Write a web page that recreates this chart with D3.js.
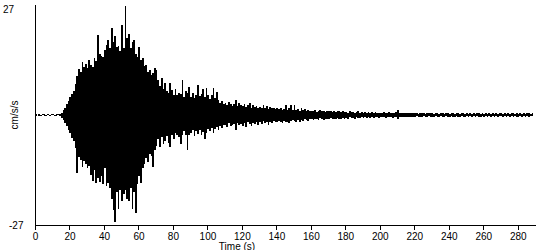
<!DOCTYPE html>
<html>
<head>
<meta charset="utf-8">
<script src="https://cdn.jsdelivr.net/npm/d3@7"></script>
<style>
	body { margin: 0; background: #fff; }
	text { font-family: "Liberation Sans", Arial, sans-serif; font-size: 10px; fill: #000; }
</style>
</head>
<body>
<svg id="chart" width="550" height="250"></svg>
<script>
// =============================
// Seismogram: peak ground acceleration per second
// =============================

// one value per second (cm/s/s)
const peakHigh = [
	0.2,0.1,0.2,0.1,0.2,0.3,0.1,0.2,0.1,0.2,
	0.2,0.1,0.2,0.2,0.3,0.6,1.2,1.8,2.6,3.4,
	4.3,5.2,6.0,7.5,9.6,11.2,10.5,13.0,11.8,12.4,
	11.5,13.6,12.2,11.8,14.0,13.2,19.7,15.0,14.5,14.2,
	16.0,17.2,18.4,16.5,21.4,17.8,19.5,16.8,17.0,15.8,
	22.0,16.5,26.8,19.0,20.0,16.5,17.8,18.5,15.0,14.2,
	16.8,13.5,14.0,12.0,12.3,10.5,11.0,9.8,10.2,11.5,
	11.0,8.5,7.2,9.0,6.5,7.8,6.0,5.5,7.8,6.2,
	5.0,6.5,4.8,5.5,5.2,8.6,4.5,6.0,5.5,6.9,
	4.5,5.5,4.2,5.0,7.4,4.6,5.2,6.3,4.4,6.6,
	4.8,4.0,5.0,6.6,4.2,5.7,3.8,3.0,3.5,2.6,
	3.0,2.4,3.2,2.8,2.2,2.6,3.7,2.2,3.0,2.5,
	2.2,2.8,2.0,2.5,2.9,1.8,2.4,2.0,2.2,1.7,
	2.0,1.6,2.4,1.8,2.2,1.5,2.0,1.6,1.8,1.4,
	1.6,1.4,1.7,1.2,1.5,2.5,1.3,1.6,2.4,1.2,
	2.5,1.3,1.5,1.1,1.8,1.2,1.4,1.0,1.2,0.9,
	1.1,0.9,1.2,0.8,1.0,1.2,0.9,1.1,0.8,1.0,
	0.9,1.1,0.8,1.0,0.7,0.9,1.0,0.8,0.9,0.7,
	0.8,0.6,0.9,0.7,0.8,0.6,0.7,0.9,0.6,0.8,
	0.6,0.8,0.5,0.7,0.6,0.8,0.5,0.7,0.6,0.5,
	0.6,0.5,0.7,0.6,0.5,0.7,0.6,0.5,0.6,0.7,
	1.2,0.5,0.6,0.4,0.6,0.5,0.4,0.6,0.5,0.4,
	0.4,0.5,0.3,0.6,0.4,0.5,0.3,0.4,0.6,0.4,
	0.5,0.3,0.4,0.6,0.3,0.5,0.4,0.3,0.5,0.4,
	0.3,0.5,0.4,0.3,0.6,0.4,0.3,0.5,0.4,0.3,
	0.4,0.3,0.5,0.3,0.4,0.3,0.5,0.4,0.3,0.4,
	0.3,0.4,0.3,0.5,0.3,0.4,0.3,0.4,0.3,0.5,
	0.4,0.3,0.5,0.3,0.4,0.3,0.4,0.5,0.3,0.4,
	0.3,0.5,0.3,0.4,0.3,0.4,0.5,0.3,0.4];

const peakLow = [
	-0.2,-0.1,-0.2,-0.2,-0.1,-0.2,-0.3,-0.1,-0.2,-0.1,
	-0.1,-0.2,-0.2,-0.1,-0.3,-0.7,-1.3,-2.0,-2.7,-3.6,
	-4.5,-5.6,-6.4,-8.0,-14.3,-10.2,-11.0,-12.7,-11.4,-12.0,
	-13.0,-12.5,-14.8,-16.2,-13.5,-16.7,-15.4,-16.5,-15.0,-17.0,
	-13.0,-17.5,-16.8,-18.0,-20.5,-23.3,-26.3,-19.0,-23.0,-18.4,
	-21.0,-19.5,-18.4,-20.5,-21.0,-18.0,-23.0,-19.0,-24.0,-17.0,
	-15.0,-16.8,-13.0,-12.0,-10.5,-11.5,-9.5,-10.0,-12.7,-8.5,
	-7.5,-6.0,-7.8,-5.5,-7.0,-6.5,-5.2,-6.8,-7.9,-5.0,
	-6.0,-4.5,-5.0,-5.5,-7.0,-4.8,-4.0,-4.8,-8.6,-5.0,
	-4.5,-3.8,-5.2,-4.0,-4.6,-3.7,-5.0,-4.2,-5.9,-4.3,
	-3.5,-4.0,-3.2,-4.5,-3.4,-3.0,-3.6,-2.8,-3.2,-2.5,
	-2.4,-3.0,-2.0,-2.6,-2.4,-2.2,-3.7,-2.0,-2.5,-2.2,
	-2.6,-2.0,-3.0,-1.8,-2.3,-2.8,-1.9,-2.2,-1.7,-2.4,
	-1.8,-2.2,-1.5,-2.0,-1.6,-2.4,-1.7,-1.9,-1.5,-1.8,
	-1.8,-1.5,-1.7,-1.9,-1.4,-1.8,-1.6,-2.0,-1.5,-1.3,
	-1.4,-1.8,-1.2,-1.6,-1.3,-1.5,-1.1,-1.2,-1.4,-1.0,
	-1.0,-1.3,-0.9,-1.1,-1.2,-0.8,-1.0,-1.3,-0.9,-1.1,
	-1.0,-0.8,-1.1,-0.9,-1.0,-0.8,-0.9,-1.0,-0.7,-0.9,
	-0.7,-0.9,-0.6,-0.8,-0.7,-0.9,-0.6,-0.8,-0.7,-0.6,
	-0.7,-0.6,-0.8,-0.5,-0.7,-0.6,-0.8,-0.5,-0.6,-0.7,
	-0.5,-0.6,-0.5,-0.7,-0.6,-0.5,-0.6,-0.7,-0.5,-0.6,
	-1.1,-0.5,-0.4,-0.6,-0.5,-0.4,-0.6,-0.5,-0.4,-0.5,
	-0.5,-0.3,-0.5,-0.4,-0.6,-0.3,-0.5,-0.4,-0.3,-0.5,
	-0.4,-0.5,-0.3,-0.4,-0.5,-0.3,-0.6,-0.4,-0.3,-0.5,
	-0.4,-0.3,-0.5,-0.4,-0.3,-0.5,-0.4,-0.3,-0.5,-0.4,
	-0.3,-0.4,-0.3,-0.5,-0.3,-0.4,-0.3,-0.4,-0.5,-0.3,
	-0.4,-0.3,-0.4,-0.3,-0.5,-0.3,-0.4,-0.3,-0.4,-0.3,
	-0.3,-0.4,-0.3,-0.4,-0.3,-0.5,-0.3,-0.4,-0.3,-0.4,
	-0.4,-0.3,-0.4,-0.3,-0.5,-0.3,-0.4,-0.3,-0.2];

const xTicks = d3.range(0, 281, 20);
const yTicks = [27, -27];

const svg = d3.select("#chart");

const x = d3.scaleLinear().domain([0, 290]).range([35, 535]);
const y = d3.scaleLinear().domain([-27, 27]).range([225, 5]);

// each second is a filled column from its low peak to its high peak
const seconds = peakHigh.map((v, i) => ({t: i, high: v, low: peakLow[i]}));
seconds.push({t: seconds.length, high: 0.1, low: -0.1});

const area = d3.area()
	.curve(d3.curveStepAfter)
	.x(d => x(d.t))
	.y0(d => y(d.low))
	.y1(d => y(d.high));

svg.append("path")
	.datum(seconds)
	.attr("d", area)
	.attr("fill", "#000")
	.attr("shape-rendering", "crispEdges");

// x axis
const xAxis = svg.append("g")
	.attr("transform", `translate(0,${y(-27)})`)
	.call(d3.axisBottom(x).tickValues(xTicks).tickSize(5).tickSizeOuter(0).tickFormat(d3.format("d")));
xAxis.select(".domain").attr("stroke", "#000").attr("d", `M${x(0)},0.5H536`).attr("shape-rendering", "crispEdges");
xAxis.selectAll("line").attr("stroke", "#000").attr("shape-rendering", "crispEdges");
xAxis.selectAll("text").attr("y", 7.5).attr("font-family", null).attr("font-size", null);
xAxis.attr("font-family", null).attr("font-size", null);

// y axis, just the line and end labels
svg.append("line")
	.attr("x1", x(0)).attr("x2", x(0))
	.attr("y1", y(27)).attr("y2", y(-27))
	.attr("stroke", "#000")
	.attr("shape-rendering", "crispEdges");

svg.selectAll(".ylab")
	.data(yTicks)
	.enter()
	.append("text")
	.attr("class", "ylab")
	.attr("x", d => d > 0 ? 3 : 9)
	.attr("y", d => d > 0 ? y(d) + 8 : y(d) + 3.5)
	.text(d => d);

// axis titles
svg.append("text")
	.text("cm/s/s")
	.attr("transform", `translate(18,${y(0)}) rotate(-90)`)
	.style("text-anchor", "middle");

svg.append("text")
	.text("Time (s)")
	.attr("x", 237)
	.attr("y", 249.5)
	.style("text-anchor", "middle");
</script>
</body>
</html>
